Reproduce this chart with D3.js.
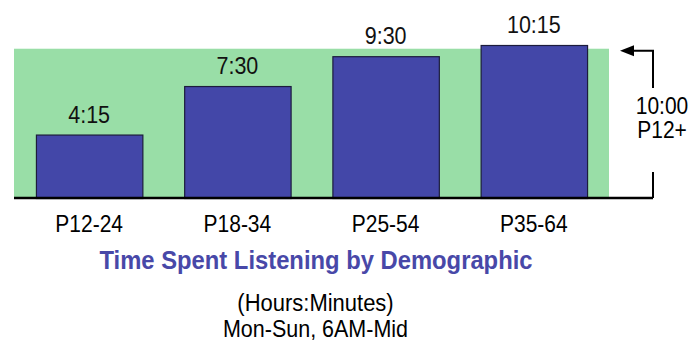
<!DOCTYPE html>
<html><head><meta charset="utf-8">
<script src="https://cdn.jsdelivr.net/npm/d3@7"></script>
<style>html,body{margin:0;padding:0;background:#fff;}svg{display:block;font-family:"Liberation Sans",Arial,sans-serif;}</style>
</head><body>
<svg id="c" width="692" height="341"></svg>
<script>
const categories = ["P12-24", "P18-34", "P25-54", "P35-64"];
const values = [4.25, 7.5, 9.5, 10.25];
const valueLabels = ["4:15", "7:30", "9:30", "10:15"];
const referenceValue = 10;
const referenceLabels = ["10:00", "P12+"];
const titleText = "Time Spent Listening by Demographic";
const subtitles = ["(Hours:Minutes)", "Mon-Sun, 6AM-Mid"];

const svg = d3.select("#c");
const x = d3.scaleBand().domain(categories).range([14, 609]).paddingInner(0.282).paddingOuter(0.148);
const y = d3.scaleLinear().domain([0, 10.25]).range([198, 45]);
const SY = 1.1; // vertical stretch of the original text
const tf = (px, py) => `translate(${px},${py}) scale(1,${SY})`;

// green reference zone
svg.append("rect").attr("x", 14).attr("y", y(referenceValue)).attr("width", 609 - 14)
  .attr("height", y(0) - y(referenceValue)).attr("fill", "#99dea7");

// bars
svg.selectAll("rect.bar").data(values).join("rect").attr("class", "bar")
  .attr("x", (d, i) => x(categories[i]) + 0.5)
  .attr("y", d => y(d) + 0.5)
  .attr("width", x.bandwidth())
  .attr("height", d => y(0) - y(d))
  .attr("fill", "#4347a8").attr("stroke", "#1c1c3c").attr("stroke-width", 1.2);

// value labels
svg.selectAll("text.val").data(values).join("text").attr("class", "val")
  .attr("transform", (d, i) => tf(x(categories[i]) + x.bandwidth() / 2, y(d) - 12))
  .attr("text-anchor", "middle").attr("font-size", 21.5).attr("fill", "#111")
  .text((d, i) => valueLabels[i]);

// baseline axis
const xAxisEnd = 653;
svg.append("line").attr("x1", 14).attr("x2", xAxisEnd).attr("y1", y(0)).attr("y2", y(0))
  .attr("stroke", "#000").attr("stroke-width", 2.5);

// category labels
svg.selectAll("text.cat").data(categories).join("text").attr("class", "cat")
  .attr("transform", d => tf(x(d) + x.bandwidth() / 2, 231.5))
  .attr("text-anchor", "middle").attr("font-size", 21).attr("fill", "#000")
  .text(d => d);

// reference bracket with arrow
const ry = y(referenceValue) + 2;
svg.append("path").attr("d", `M${xAxisEnd},${y(0)} V172 M${xAxisEnd},88 V${ry} H632`)
  .attr("fill", "none").attr("stroke", "#000").attr("stroke-width", 2);
svg.append("path").attr("d", `M620,${ry} L634,${ry - 5.5} L634,${ry + 5.5} Z`).attr("fill", "#000");
svg.selectAll("text.ref").data(referenceLabels).join("text").attr("class", "ref")
  .attr("transform", (d, i) => tf(662, 114 + i * 23.5))
  .attr("text-anchor", "middle").attr("font-size", 21).attr("fill", "#000")
  .text(d => d);

// title
svg.append("text").attr("transform", tf(316, 269)).attr("text-anchor", "middle")
  .attr("font-size", 23.8).attr("font-weight", "bold").attr("fill", "#4848a8").text(titleText);
svg.selectAll("text.sub").data(subtitles).join("text").attr("class", "sub")
  .attr("transform", (d, i) => tf(315.5, 310.5 + i * 26))
  .attr("text-anchor", "middle").attr("font-size", (d, i) => i === 0 ? 22 : 21.5).attr("fill", "#000")
  .text(d => d);
</script>
</body></html>
